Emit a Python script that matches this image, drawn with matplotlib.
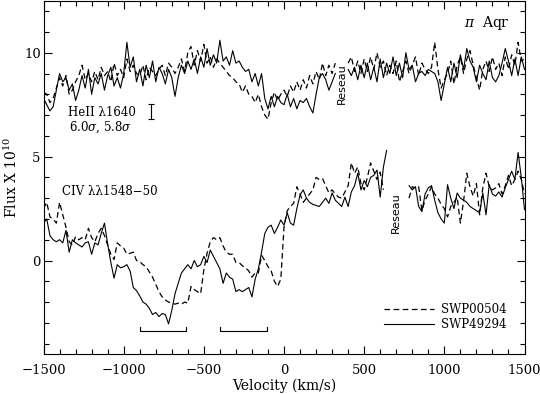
import matplotlib
matplotlib.use("Agg")
import matplotlib.pyplot as plt
from matplotlib.ticker import MultipleLocator
import numpy as np

nan = np.nan

# velocity grid of the spectra (km/s), 20 km/s sampling
velocity = np.arange(-1500, 1501, 20)

# HeII 1640 region (flux x 1e10), NaN = reseau gap
he_swp00504 = [
    8.1, 8.0, 7.6, 7.8, 8.3, 8.8, 8.4, 8.9, 8.0, 8.2,
    8.6, 8.9, 9.4, 8.7, 9.0, 8.6, 9.1, 8.7, 9.3, 8.9,
    9.1, 8.6, 9.5, 8.9, 9.2, 8.8, 9.7, 9.1, 9.4, 9.0,
    8.9, 9.4, 8.7, 9.3, 9.1, 8.9, 9.2, 9.4, 8.9, 9.5,
    9.3, 9.0, 9.3, 9.7, 9.1, 10.0, 10.3, 9.4, 10.1, 9.6,
    10.4, 9.5, 9.8, 9.3, 9.7, 9.5, 9.3, 9.1, 8.9, 8.8,
    8.6, 8.5, 8.1, 8.4, 8.0, 7.9, 7.6, 8.0, 7.4, 7.0,
    6.8, 7.6, 8.1, 7.7, 8.0, 8.2, 7.9, 8.4, 8.1, 8.6,
    8.2, 8.7, 8.3, 8.9, 8.5, 9.1, 8.7, 9.5, 8.9, 9.4,
    9.0, 9.5, nan, nan, nan, 9.5, 9.8, 9.1, 9.6, 9.0,
    9.7, 9.1, 9.8, 9.2, 10.0, 9.3, 9.6, 8.9, 9.4, 9.0,
    9.6, 8.6, 9.1, 9.6, 9.0, 9.4, 9.8, 8.9, 9.5, 9.2,
    9.0, 9.3, 10.5, 9.2, 8.3, 8.7, 9.0, 9.6, 8.5, 9.4,
    9.8, 9.0, 9.7, 10.1, 9.4, 8.8, 8.2, 9.2, 9.6, 9.1,
    9.8, 9.2, 9.5, 8.9, 9.8, 9.2, 9.9, 9.4, 10.5, 9.6,
    9.7,
]
he_swp49294 = [
    7.8, 7.5, 7.2, 7.4, 8.2, 9.0, 8.6, 8.8, 8.2, 8.5,
    7.7, 8.2, 8.9, 8.3, 9.2, 8.0, 8.8, 8.5, 9.0, 8.2,
    8.9, 9.3, 8.4, 8.8, 8.3, 9.0, 10.5, 9.3, 9.8, 8.6,
    9.2, 8.4, 9.4, 8.8, 9.6, 8.6, 9.3, 9.0, 8.5, 9.2,
    8.8, 7.9, 8.8, 9.4, 9.0, 9.6, 9.2, 9.7, 9.0, 9.8,
    9.3, 10.2, 9.4, 9.9, 9.5, 10.6, 9.6, 9.8, 9.4, 10.1,
    9.5, 9.6, 9.3, 9.1, 9.2, 8.6, 9.0, 8.4, 9.0, 7.8,
    7.3, 7.9, 7.4, 7.9, 7.6, 7.5, 8.0, 7.4, 7.8, 7.3,
    7.7, 7.6, 7.8, 7.4, 7.1, 8.0, 8.8, 9.0, 8.7, 8.2,
    8.6, 9.0, nan, nan, nan, 9.2, 8.9, 9.3, 8.7, 9.4,
    8.8, 9.5, 8.7, 9.3, 8.6, 9.7, 8.8, 9.5, 9.0, 9.8,
    8.9, 9.5, 8.8, 10.0, 9.2, 9.4, 8.6, 9.0, 9.1, 8.9,
    9.2, 9.1, 9.0, 8.6, 7.7, 8.5, 9.3, 8.6, 9.5, 8.8,
    9.9, 9.2, 10.2, 9.6, 9.3, 8.6, 9.4, 9.0, 8.7, 9.6,
    8.8, 8.6, 8.9, 9.5, 10.2, 9.6, 8.9, 9.7, 8.9, 9.8,
    9.2,
]

# CIV 1548-50 region
civ_swp00504 = [
    2.5, 2.8, 2.1, 2.0, 1.8, 2.8, 2.2, 1.6, 0.9, 0.75,
    1.15, 1.0, 1.1, 1.0, 1.55, 1.1, 0.9, 1.3, 1.55, 1.2,
    0.75, 0.3, 0.05, 0.85, 0.7, 0.6, 0.3, 0.35, 0.4, 0.0,
    -0.05, -0.2, -0.3, -0.55, -0.8, -1.15, -1.5, -1.75, -1.9, -2.0,
    -2.05, -2.1, -2.05, -2.1, -2.0, -2.05, -1.25, -1.4, -1.5, -1.6,
    -0.45, 0.35, 0.9, 1.1, 1.0, 1.1, 0.7, 0.4, 0.3, 0.3,
    -0.1, -0.1, -0.25, -0.35, -0.5, -0.8, -0.6, -0.6, 0.25, 0.0,
    -0.3, -0.5, -1.0, -1.25, -0.9, 1.6, 2.4, 2.6, 2.75, 3.55,
    3.2, 2.8, 3.0, 3.2, 3.4, 4.0, 3.9, 3.95, 3.6, 3.25,
    3.4, 3.2, 3.05, 3.0, 3.3, 3.6, 4.7, 4.2, 4.5, 3.7,
    3.4, 4.0, 4.7, 4.3, 3.9, 4.25, 3.4, nan, nan, nan,
    nan, nan, nan, nan, 3.0, 3.55, 3.5, 3.55, 2.4, 2.9,
    3.2, 3.55, 3.2, 3.0, 2.7, 2.5, 2.1, 2.6, 2.8, 3.05,
    1.8, 2.85, 4.2, 3.55, 3.1, 3.7, 2.2, 3.5, 4.2, 3.55,
    3.4, 3.5, 3.7, 3.2, 3.6, 4.1, 3.6, 3.9, 4.3, 3.9,
    3.2,
]
civ_swp49294 = [
    1.8, 2.0, 1.2, 1.0, 0.9, 1.0, 0.85, 1.45, 0.4, 1.0,
    0.85, 0.75, 0.65, 0.85, 0.9, 0.3, 0.85, 0.75, 1.3, 1.8,
    0.8, -0.1, -0.85, -0.2, -0.35, -0.3, -0.2, -0.5, -1.3, -1.45,
    -1.7, -2.0, -2.1, -2.3, -2.6, -2.5, -2.7, -2.55, -2.6, -3.05,
    -2.4, -1.6, -1.1, -0.6, -0.4, -0.2, -0.4, 0.0, -0.3, -0.2,
    0.2, -0.1, 0.5, 0.2, -0.1, -0.4, -1.1, -0.6, -0.8, -0.9,
    -1.5, -1.4, -1.5, -1.4, -1.3, -1.75, -0.9, -0.4, 0.4, 1.3,
    1.6, 1.7, 1.3, 1.6, 1.95, 1.7, 2.3, 1.8, 1.7, 2.5,
    3.15, 3.4, 3.0, 2.8, 2.7, 2.65, 2.6, 2.8, 3.0, 2.75,
    3.25, 2.9, 2.75, 2.6, 3.05, 2.6, 3.3, 3.6, 4.2, 3.4,
    3.85, 3.55, 4.0, 4.1, 4.35, 3.05, 4.5, 5.3, nan, nan,
    nan, nan, nan, nan, 3.6, 3.4, 3.55, 2.6, 2.35, 3.2,
    3.5, 3.6, 2.9, 2.3, 2.0, 1.8, 3.65, 3.0, 2.5, 3.25,
    3.0, 2.9, 2.8, 2.6, 2.5, 2.4, 2.3, 3.25, 2.2, 3.65,
    3.2, 3.1, 3.3, 3.05, 3.5, 3.9, 4.3, 3.9, 5.2, 4.0,
    2.45,
]

# velocity ranges marked under the CIV absorption
bracket_ranges = [(-900, -610), (-400, -105)]
bracket_level = -3.4

# typical error bar for HeII
err_v, err_lo, err_hi = -830, 6.82, 7.54

plt.rcParams["font.family"] = "DejaVu Serif"
plt.rcParams["mathtext.fontset"] = "dejavuserif"

fig = plt.figure(figsize=(5.4, 3.94), dpi=100)
ax = fig.add_axes([0.0806, 0.1015, 0.8907, 0.8965])

dash = (0, (4.5, 2.8))
ax.plot(velocity, he_swp00504, color="black", lw=0.9, ls=dash)
ax.plot(velocity, he_swp49294, color="black", lw=0.8)
ax.plot(velocity, civ_swp00504, color="black", lw=0.9, ls=dash, label="SWP00504")
ax.plot(velocity, civ_swp49294, color="black", lw=0.8, label="SWP49294")

for v0, v1 in bracket_ranges:
    ax.plot([v0, v0, v1, v1], [bracket_level + 0.22, bracket_level,
                               bracket_level, bracket_level + 0.22],
            color="black", lw=0.8)

ax.errorbar([err_v], [(err_lo + err_hi) / 2], yerr=[(err_hi - err_lo) / 2],
            color="black", lw=0.8, capsize=2.5, capthick=0.8)

ax.text(-1347, 7.1, "HeII λ1640", fontsize=8.5, va="center")
ax.text(-1340, 6.43, r"6.0$\sigma$, 5.8$\sigma$", fontsize=8.5, va="center")
ax.text(-1385, 3.3, "CIV λλ1548−50", fontsize=8.5, va="center")
ax.text(1266, 11.43, r"$\pi$  Aqr", fontsize=10, ha="center", va="center")
ax.text(362, 8.53, "Reseau", family="DejaVu Sans", fontsize=8,
        rotation=90, ha="center", va="center")
ax.text(699, 2.3, "Reseau", family="DejaVu Sans", fontsize=8,
        rotation=90, ha="center", va="center")

ax.legend(loc="lower right", bbox_to_anchor=(0.985, 0.035), frameon=False,
          fontsize=8.5, handlelength=4.2, handletextpad=0.6, labelspacing=0.2)

ax.set_xlim(-1500, 1500)
ax.set_ylim(-4.5, 12.5)
ax.xaxis.set_major_locator(MultipleLocator(500))
ax.xaxis.set_minor_locator(MultipleLocator(100))
ax.yaxis.set_major_locator(MultipleLocator(5))
ax.yaxis.set_minor_locator(MultipleLocator(1))
ax.tick_params(which="both", direction="in", top=True, right=True, width=0.8)
ax.tick_params(which="major", length=6, labelsize=9.5)
ax.tick_params(axis="x", which="major", pad=7)
ax.tick_params(axis="y", which="major", pad=2)
ax.tick_params(which="minor", length=3.3)
for s in ax.spines.values():
    s.set_linewidth(0.8)

ax.set_xlabel("Velocity (km/s)", fontsize=10, labelpad=1)
ax.set_ylabel(r"Flux X 10$^{10}$", fontsize=10, labelpad=3)

fig.savefig("out.png", dpi=100)
